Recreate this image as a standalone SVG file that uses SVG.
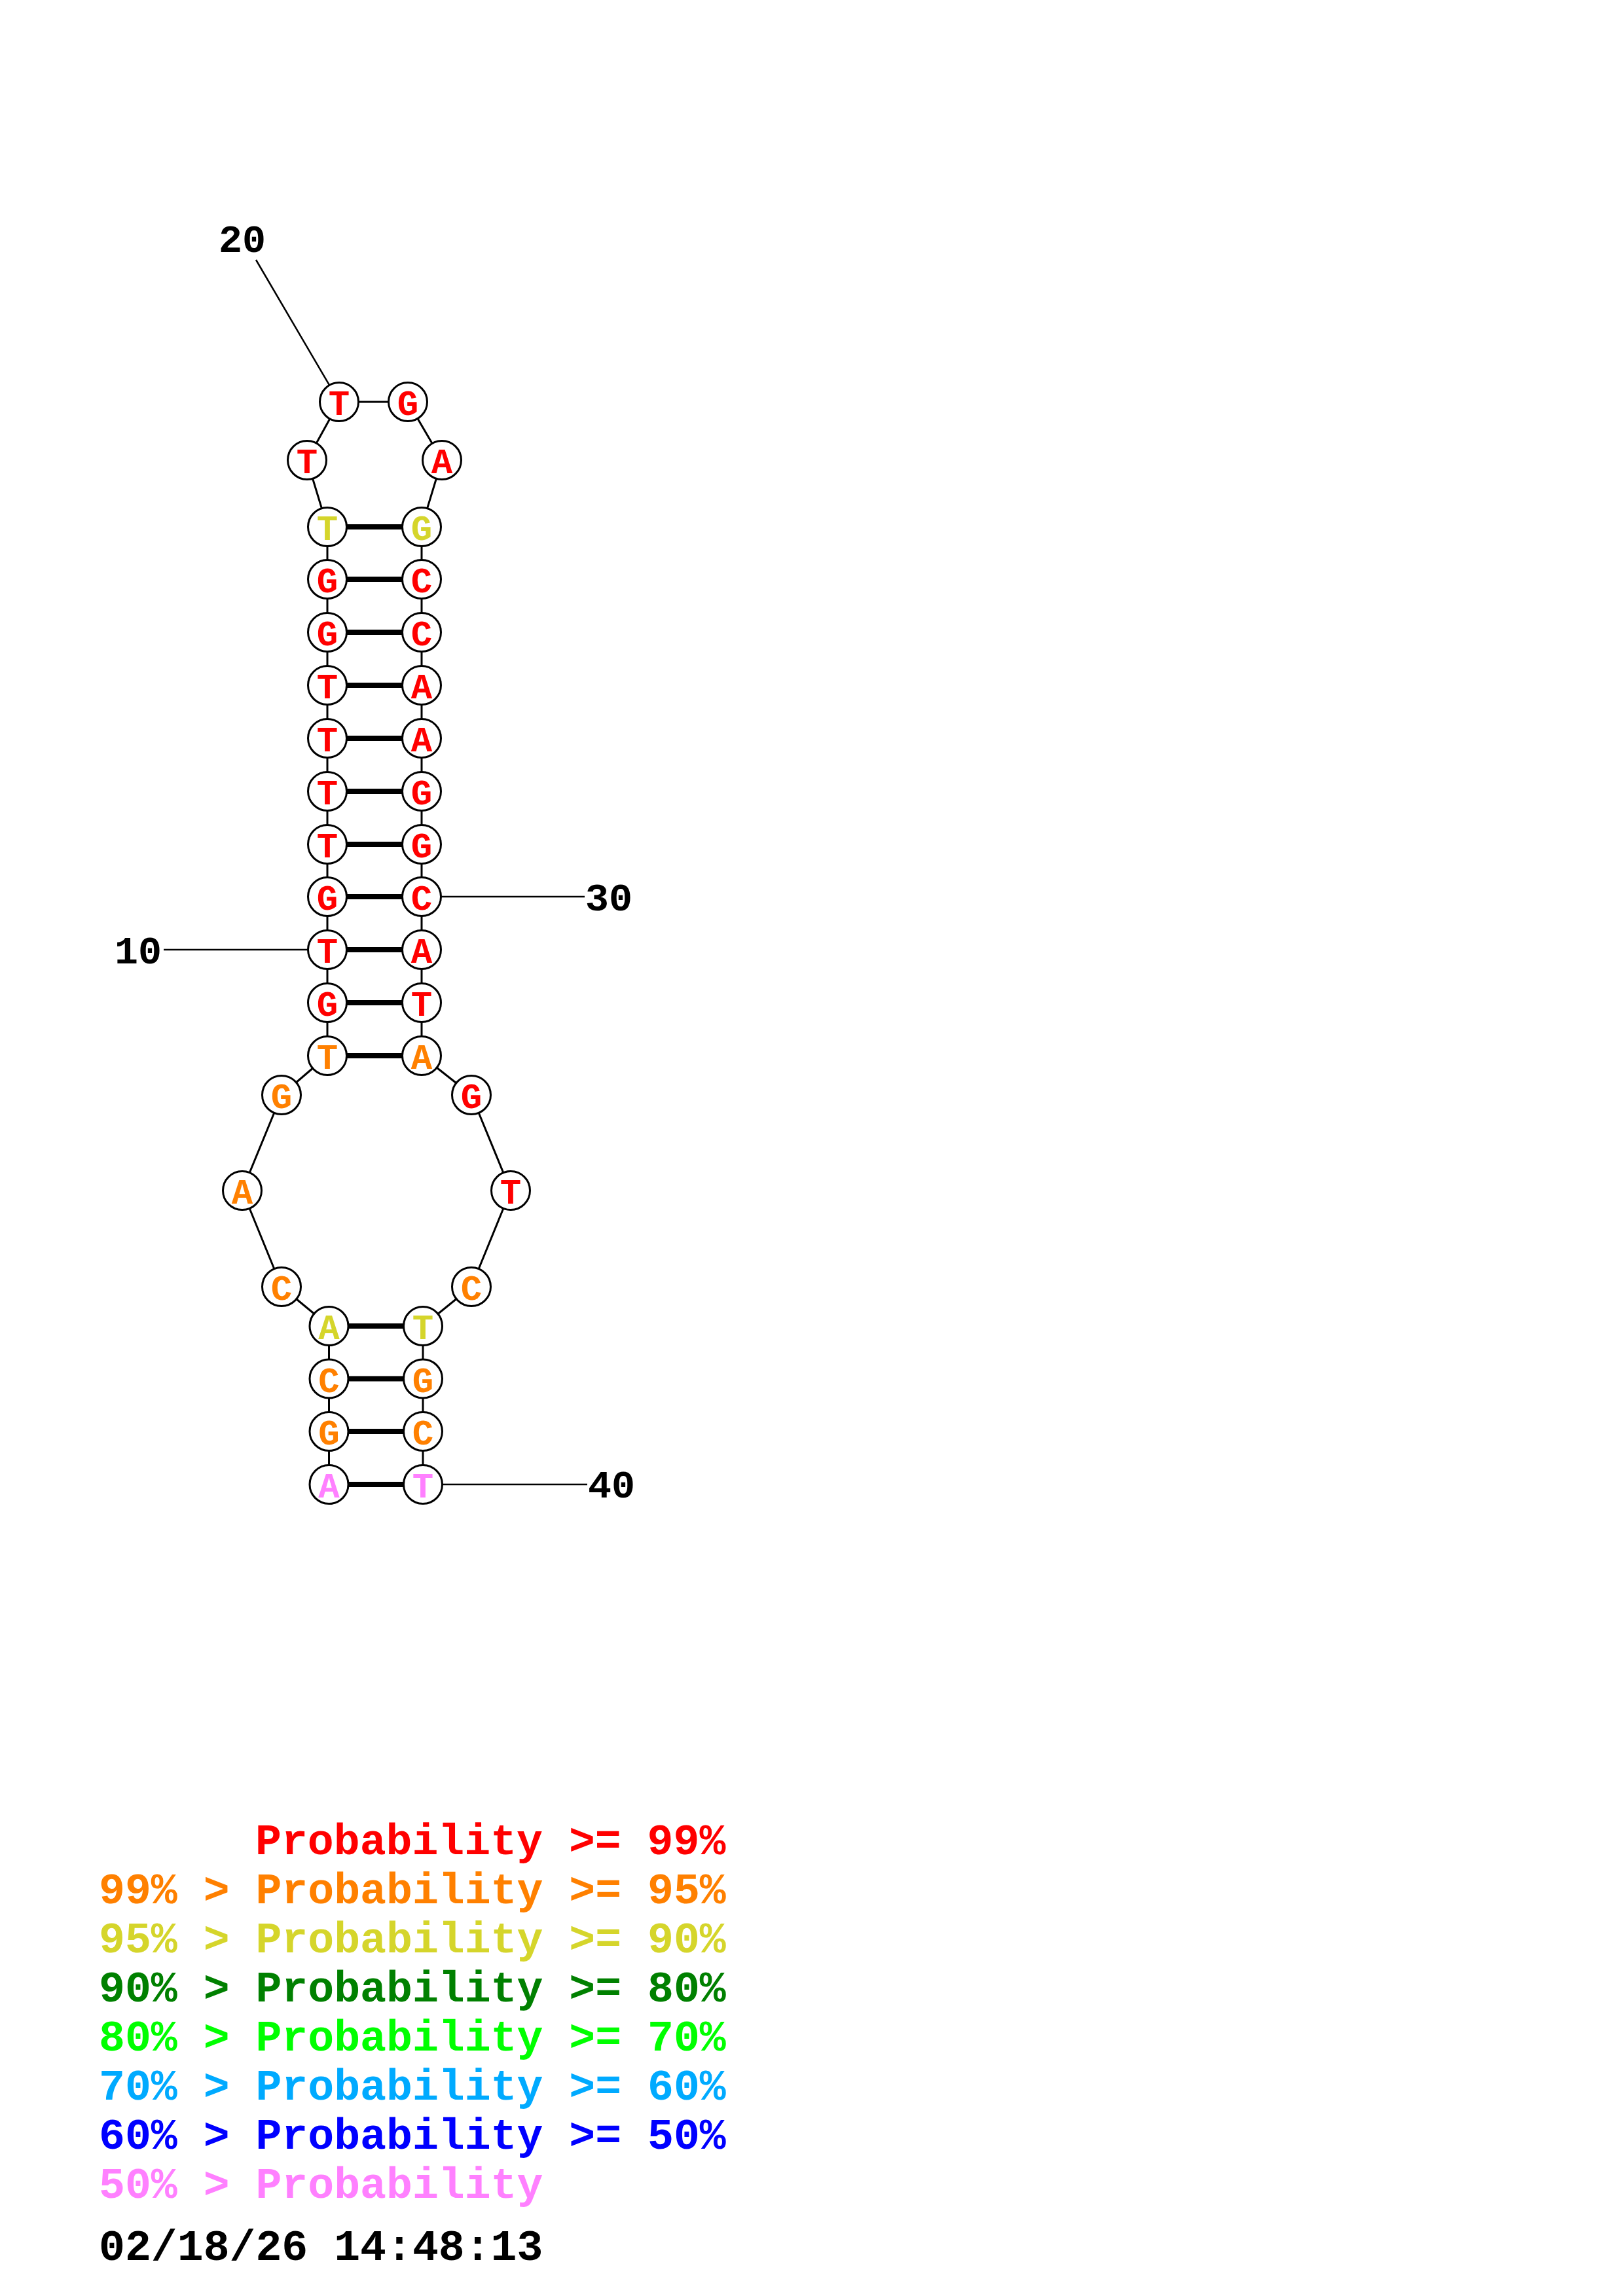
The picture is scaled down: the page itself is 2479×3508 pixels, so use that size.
<svg xmlns="http://www.w3.org/2000/svg" width="2479" height="3508" viewBox="0 0 2479 3508">
<style>
.bb{fill:none;stroke:#000;stroke-width:3;stroke-linejoin:round}
.pr{stroke:#000;stroke-width:8}
.ln{stroke:#000;stroke-width:2.5}
.nd circle{fill:#fff;stroke:#000;stroke-width:3}
.nd text{font-family:"Liberation Mono","Courier New",monospace;font-weight:bold;font-size:54px;text-anchor:middle}
.num{font-family:"Liberation Mono","Courier New",monospace;font-weight:bold;font-size:60px;fill:#000}
.lg{font-family:"Liberation Mono","Courier New",monospace;font-weight:bold;font-size:66.5px}
.r{fill:#ff0000}.o{fill:#ff8000}.y{fill:#d5d52b}.g{fill:#008000}.lgn{fill:#00ff00}.c{fill:#00aaff}.b{fill:#0000ff}.p{fill:#ff80ff}.k{fill:#000}
</style>
<rect width="2479" height="3508" fill="#fff"/>
<g id="connectors">
<polyline class="bb" points="502.5,2268 502.5,2187 502.5,2106.5 502.5,2026 430,1966 370,1819 430,1673 500,1613 500,1532 500,1451 500,1370 500,1290 500,1209 500,1128 500,1047 500,966 500,885 500,805 469,703 518,614 623,614 675,703 644,805 644,885 644,966 644,1047 644,1128 644,1209 644,1290 644,1370 644,1451 644,1532 644,1613 720,1673 780,1819 720,1966 646,2026 646,2106.5 646,2187 646,2268"/>
<line class="pr" x1="500" y1="805" x2="644" y2="805"/>
<line class="pr" x1="500" y1="885" x2="644" y2="885"/>
<line class="pr" x1="500" y1="966" x2="644" y2="966"/>
<line class="pr" x1="500" y1="1047" x2="644" y2="1047"/>
<line class="pr" x1="500" y1="1128" x2="644" y2="1128"/>
<line class="pr" x1="500" y1="1209" x2="644" y2="1209"/>
<line class="pr" x1="500" y1="1290" x2="644" y2="1290"/>
<line class="pr" x1="500" y1="1370" x2="644" y2="1370"/>
<line class="pr" x1="500" y1="1451" x2="644" y2="1451"/>
<line class="pr" x1="500" y1="1532" x2="644" y2="1532"/>
<line class="pr" x1="500" y1="1613" x2="644" y2="1613"/>
<line class="pr" x1="502.5" y1="2026" x2="646" y2="2026"/>
<line class="pr" x1="502.5" y1="2106.5" x2="646" y2="2106.5"/>
<line class="pr" x1="502.5" y1="2187" x2="646" y2="2187"/>
<line class="pr" x1="502.5" y1="2268" x2="646" y2="2268"/>
<line class="ln" x1="500" y1="1451" x2="250" y2="1451"/>
<line class="ln" x1="518" y1="614" x2="391" y2="397"/>
<line class="ln" x1="644" y1="1370" x2="893" y2="1370"/>
<line class="ln" x1="646" y1="2268" x2="897" y2="2268"/>
</g>
<g id="labels">
<text class="num" x="247" y="1472" text-anchor="end">10</text>
<text class="num" x="370" y="385" text-anchor="middle">20</text>
<text class="num" x="894" y="1391">30</text>
<text class="num" x="898" y="2288">40</text>
</g>
<g id="n1" class="nd"><circle cx="502.5" cy="2268" r="29.5"/><text class="p" x="502.5" y="2288">A</text></g>
<g id="n2" class="nd"><circle cx="502.5" cy="2187" r="29.5"/><text class="o" x="502.5" y="2207">G</text></g>
<g id="n3" class="nd"><circle cx="502.5" cy="2106.5" r="29.5"/><text class="o" x="502.5" y="2126.5">C</text></g>
<g id="n4" class="nd"><circle cx="502.5" cy="2026" r="29.5"/><text class="y" x="502.5" y="2046">A</text></g>
<g id="n5" class="nd"><circle cx="430" cy="1966" r="29.5"/><text class="o" x="430" y="1986">C</text></g>
<g id="n6" class="nd"><circle cx="370" cy="1819" r="29.5"/><text class="o" x="370" y="1839">A</text></g>
<g id="n7" class="nd"><circle cx="430" cy="1673" r="29.5"/><text class="o" x="430" y="1693">G</text></g>
<g id="n8" class="nd"><circle cx="500" cy="1613" r="29.5"/><text class="o" x="500" y="1633">T</text></g>
<g id="n9" class="nd"><circle cx="500" cy="1532" r="29.5"/><text class="r" x="500" y="1552">G</text></g>
<g id="n10" class="nd"><circle cx="500" cy="1451" r="29.5"/><text class="r" x="500" y="1471">T</text></g>
<g id="n11" class="nd"><circle cx="500" cy="1370" r="29.5"/><text class="r" x="500" y="1390">G</text></g>
<g id="n12" class="nd"><circle cx="500" cy="1290" r="29.5"/><text class="r" x="500" y="1310">T</text></g>
<g id="n13" class="nd"><circle cx="500" cy="1209" r="29.5"/><text class="r" x="500" y="1229">T</text></g>
<g id="n14" class="nd"><circle cx="500" cy="1128" r="29.5"/><text class="r" x="500" y="1148">T</text></g>
<g id="n15" class="nd"><circle cx="500" cy="1047" r="29.5"/><text class="r" x="500" y="1067">T</text></g>
<g id="n16" class="nd"><circle cx="500" cy="966" r="29.5"/><text class="r" x="500" y="986">G</text></g>
<g id="n17" class="nd"><circle cx="500" cy="885" r="29.5"/><text class="r" x="500" y="905">G</text></g>
<g id="n18" class="nd"><circle cx="500" cy="805" r="29.5"/><text class="y" x="500" y="825">T</text></g>
<g id="n19" class="nd"><circle cx="469" cy="703" r="29.5"/><text class="r" x="469" y="723">T</text></g>
<g id="n20" class="nd"><circle cx="518" cy="614" r="29.5"/><text class="r" x="518" y="634">T</text></g>
<g id="n21" class="nd"><circle cx="623" cy="614" r="29.5"/><text class="r" x="623" y="634">G</text></g>
<g id="n22" class="nd"><circle cx="675" cy="703" r="29.5"/><text class="r" x="675" y="723">A</text></g>
<g id="n23" class="nd"><circle cx="644" cy="805" r="29.5"/><text class="y" x="644" y="825">G</text></g>
<g id="n24" class="nd"><circle cx="644" cy="885" r="29.5"/><text class="r" x="644" y="905">C</text></g>
<g id="n25" class="nd"><circle cx="644" cy="966" r="29.5"/><text class="r" x="644" y="986">C</text></g>
<g id="n26" class="nd"><circle cx="644" cy="1047" r="29.5"/><text class="r" x="644" y="1067">A</text></g>
<g id="n27" class="nd"><circle cx="644" cy="1128" r="29.5"/><text class="r" x="644" y="1148">A</text></g>
<g id="n28" class="nd"><circle cx="644" cy="1209" r="29.5"/><text class="r" x="644" y="1229">G</text></g>
<g id="n29" class="nd"><circle cx="644" cy="1290" r="29.5"/><text class="r" x="644" y="1310">G</text></g>
<g id="n30" class="nd"><circle cx="644" cy="1370" r="29.5"/><text class="r" x="644" y="1390">C</text></g>
<g id="n31" class="nd"><circle cx="644" cy="1451" r="29.5"/><text class="r" x="644" y="1471">A</text></g>
<g id="n32" class="nd"><circle cx="644" cy="1532" r="29.5"/><text class="r" x="644" y="1552">T</text></g>
<g id="n33" class="nd"><circle cx="644" cy="1613" r="29.5"/><text class="o" x="644" y="1633">A</text></g>
<g id="n34" class="nd"><circle cx="720" cy="1673" r="29.5"/><text class="r" x="720" y="1693">G</text></g>
<g id="n35" class="nd"><circle cx="780" cy="1819" r="29.5"/><text class="r" x="780" y="1839">T</text></g>
<g id="n36" class="nd"><circle cx="720" cy="1966" r="29.5"/><text class="o" x="720" y="1986">C</text></g>
<g id="n37" class="nd"><circle cx="646" cy="2026" r="29.5"/><text class="y" x="646" y="2046">T</text></g>
<g id="n38" class="nd"><circle cx="646" cy="2106.5" r="29.5"/><text class="o" x="646" y="2126.5">G</text></g>
<g id="n39" class="nd"><circle cx="646" cy="2187" r="29.5"/><text class="o" x="646" y="2207">C</text></g>
<g id="n40" class="nd"><circle cx="646" cy="2268" r="29.5"/><text class="p" x="646" y="2288">T</text></g>
<g id="legend">
<text class="lg r" x="390" y="2833">Probability &gt;= 99%</text>
<text class="lg o" x="151" y="2908">99% &gt; Probability &gt;= 95%</text>
<text class="lg y" x="151" y="2983">95% &gt; Probability &gt;= 90%</text>
<text class="lg g" x="151" y="3058">90% &gt; Probability &gt;= 80%</text>
<text class="lg lgn" x="151" y="3133">80% &gt; Probability &gt;= 70%</text>
<text class="lg c" x="151" y="3208">70% &gt; Probability &gt;= 60%</text>
<text class="lg b" x="151" y="3283">60% &gt; Probability &gt;= 50%</text>
<text class="lg p" x="151" y="3358">50% &gt; Probability</text>
<text class="lg k" x="151" y="3453">02/18/26 14:48:13</text>
</g>
</svg>
